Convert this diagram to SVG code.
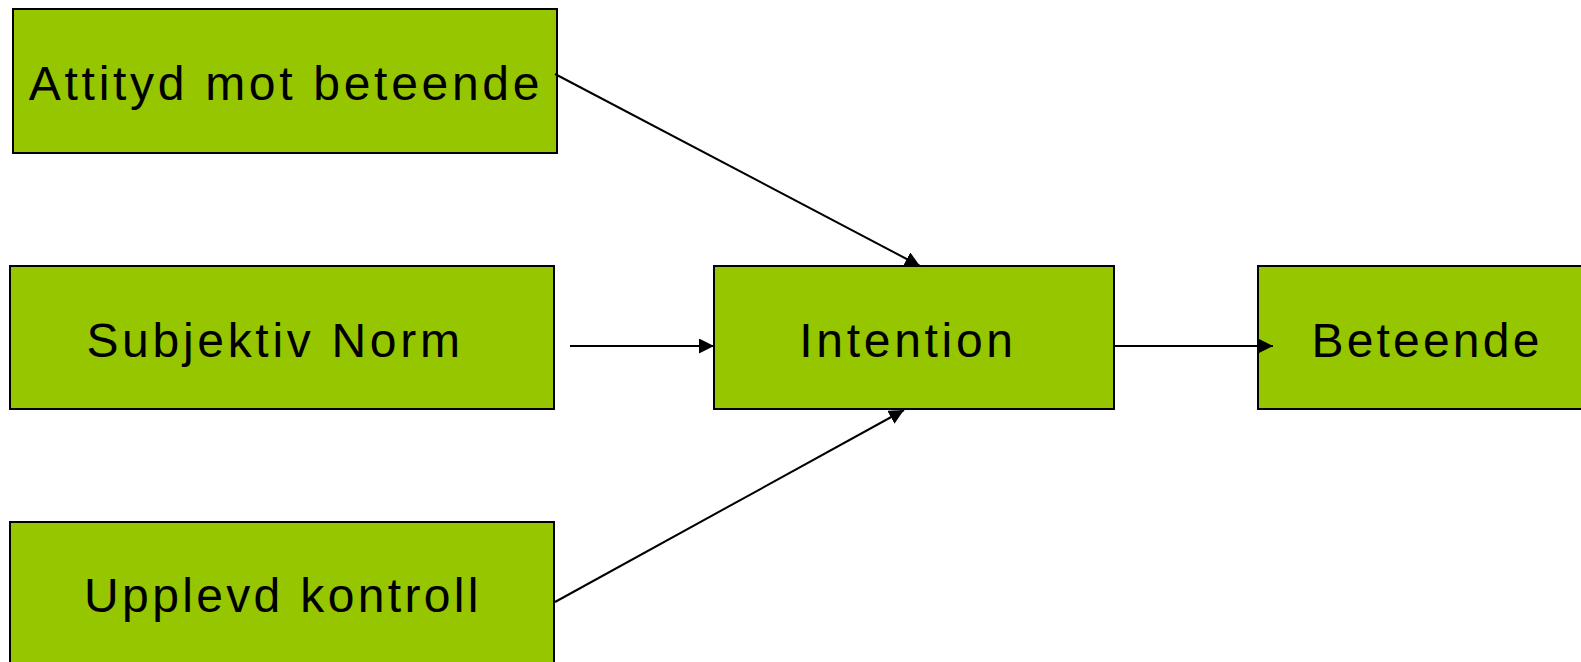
<svg xmlns="http://www.w3.org/2000/svg" width="1581" height="662" viewBox="0 0 1581 662">
<style>
.box{fill:#95c600;stroke:#000;stroke-width:2}
.lbl{font-family:"Liberation Sans",Arial,sans-serif;font-size:48px;letter-spacing:3.7px;fill:#000;text-anchor:middle}
.con{stroke:#000;stroke-width:2;fill:none}
</style>
<defs>
<marker id="arr" markerWidth="16" markerHeight="16" refX="15" refY="7.5" orient="auto" markerUnits="userSpaceOnUse">
<path d="M0,0 L15,7.5 L0,15 Z" fill="#000"/>
</marker>
</defs>
<rect width="1581" height="662" fill="#fff"/>
<g id="attityd"><rect class="box" x="13" y="9" width="544" height="144"/><text class="lbl" x="286" y="100">Attityd mot beteende</text></g>
<g id="subjektiv"><rect class="box" x="10" y="266" width="544" height="143"/><text class="lbl" x="275" y="357">Subjektiv Norm</text></g>
<g id="upplevd"><rect class="box" x="10" y="522" width="544" height="150"/><text class="lbl" x="283" y="612" style="letter-spacing:3.35px">Upplevd kontroll</text></g>
<g id="intention"><rect class="box" x="714" y="266" width="400" height="143"/><text class="lbl" x="908" y="357">Intention</text></g>
<g id="beteende"><rect class="box" x="1258" y="266" width="330" height="143"/><text class="lbl" x="1427" y="357" style="letter-spacing:3.2px">Beteende</text></g>
<g id="connectors">
<line class="con" x1="555" y1="74" x2="920" y2="266" marker-end="url(#arr)"/>
<line class="con" x1="570" y1="346" x2="714" y2="346" marker-end="url(#arr)"/>
<line class="con" x1="555" y1="602" x2="904" y2="410" marker-end="url(#arr)"/>
<line class="con" x1="1114" y1="346" x2="1273" y2="346" marker-end="url(#arr)"/>
</g>
</svg>
